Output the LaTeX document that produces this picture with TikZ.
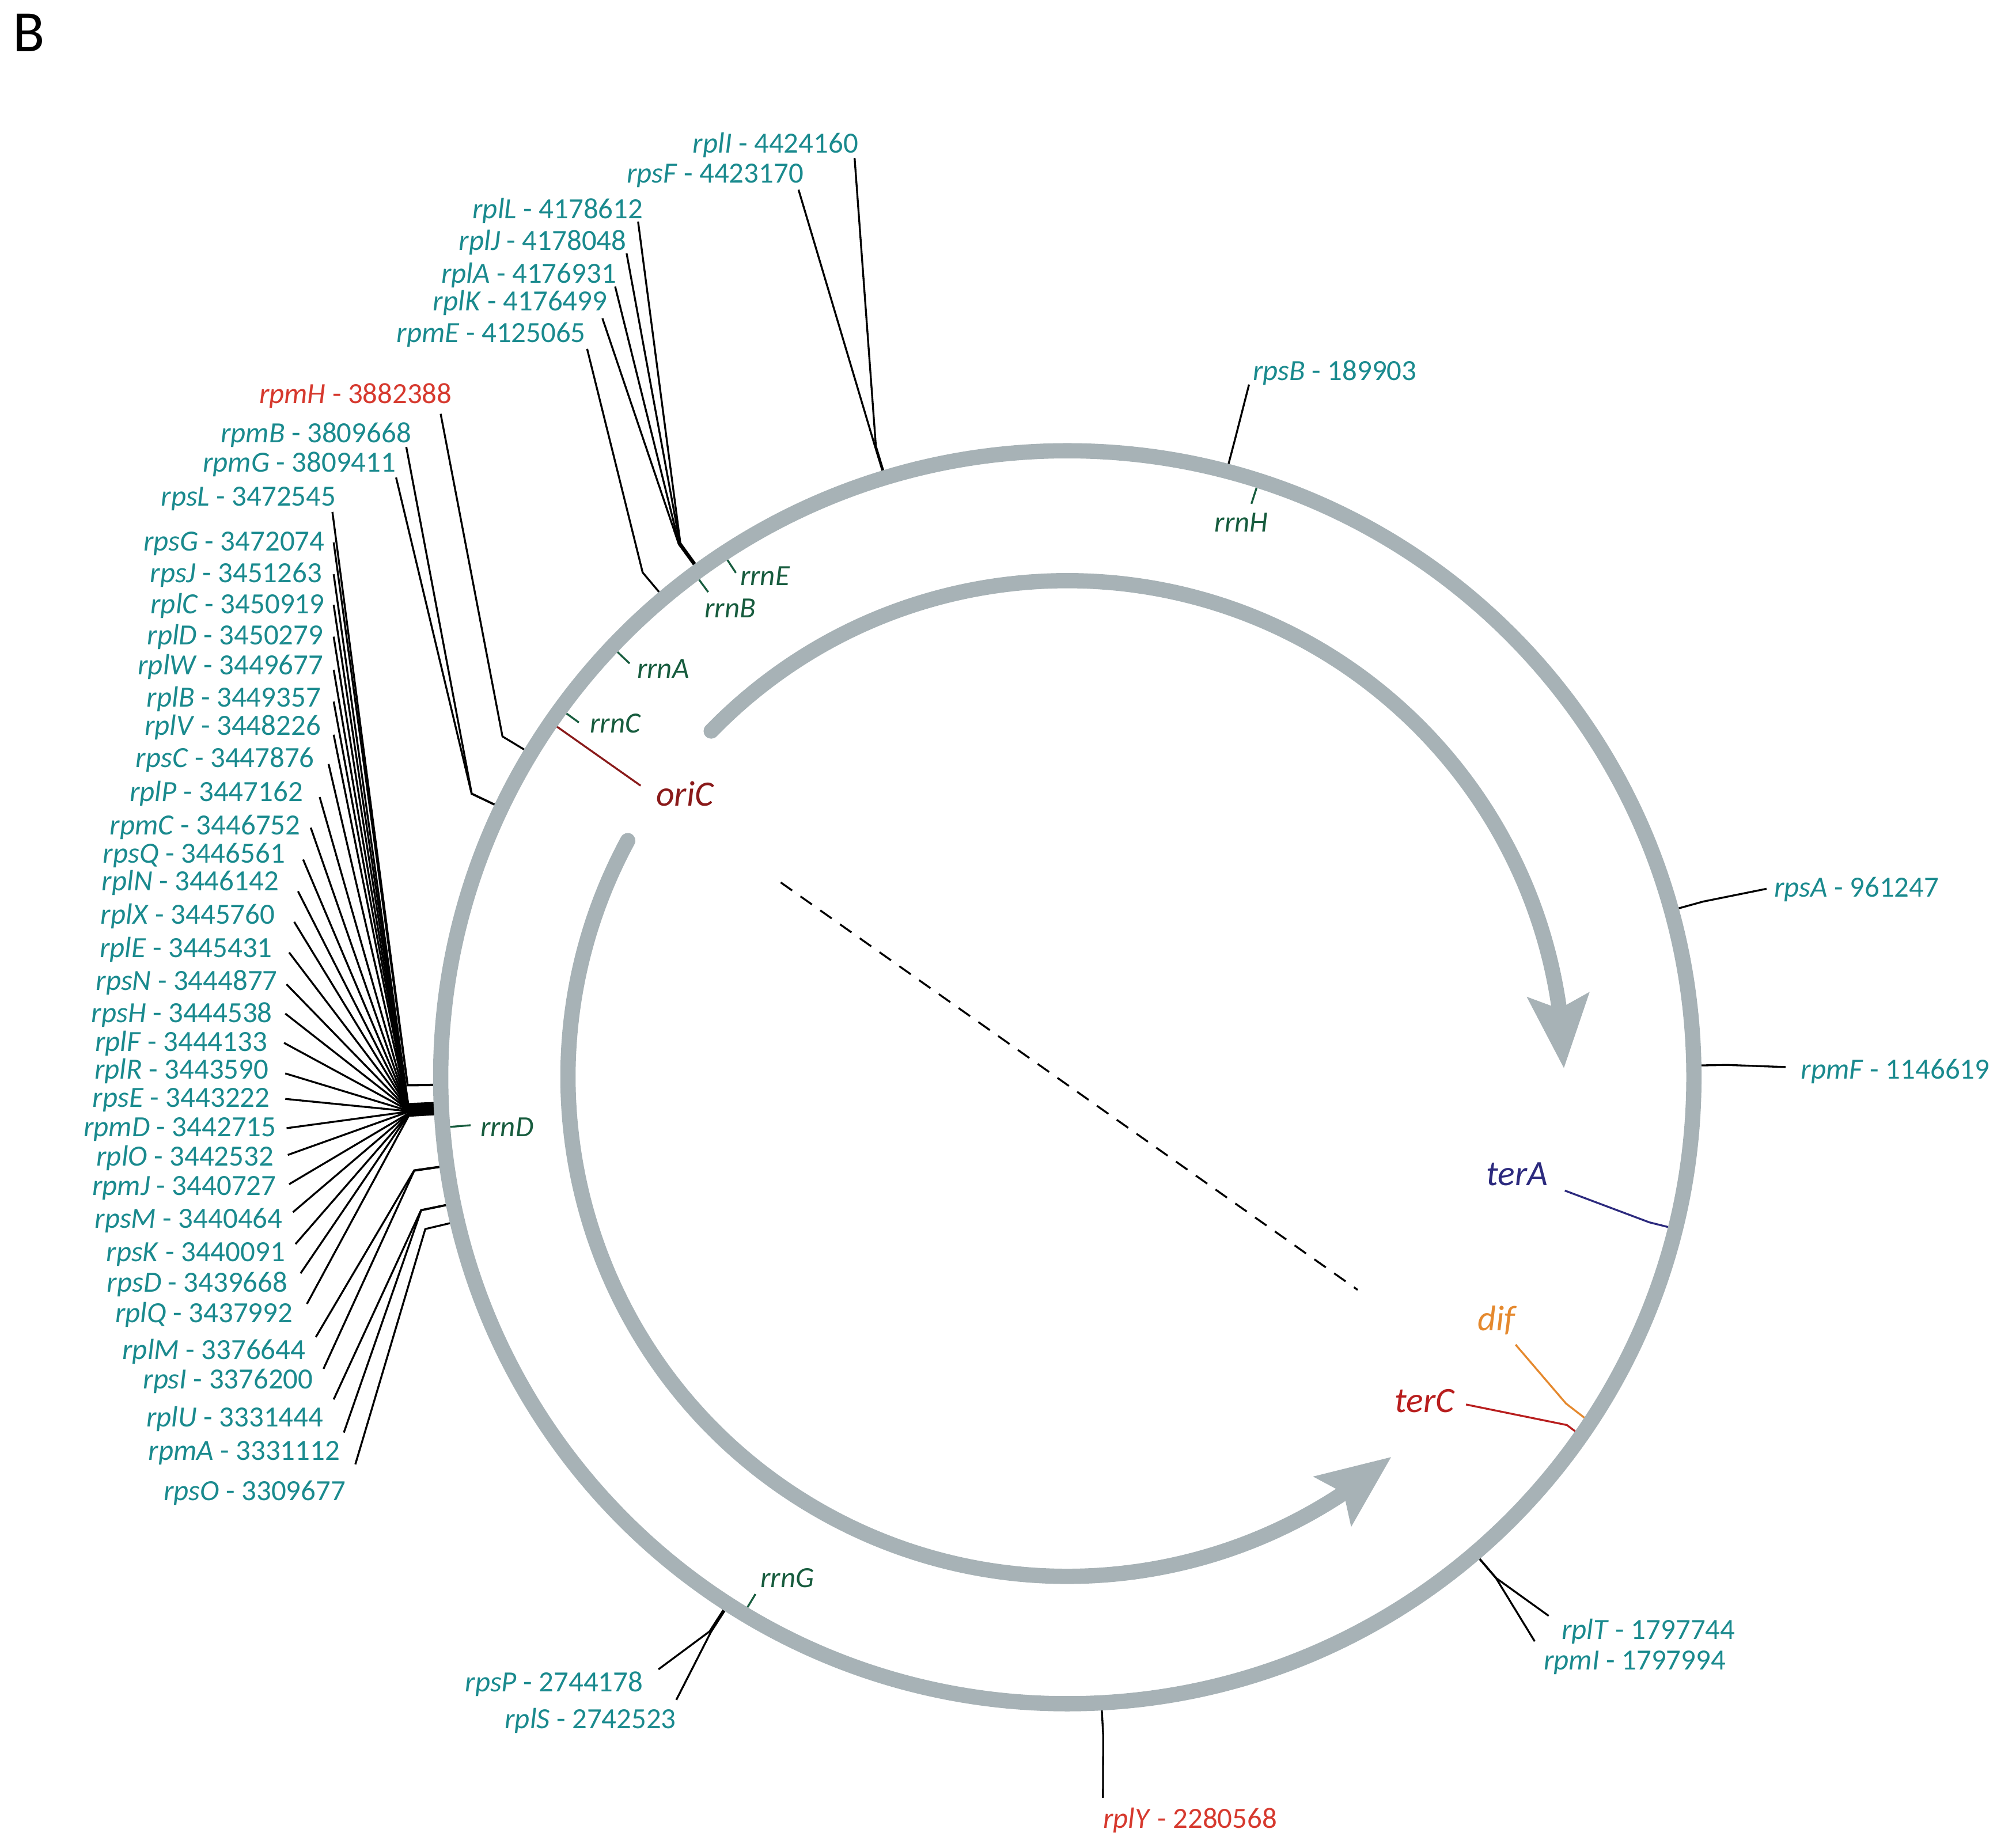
\documentclass[tikz,border=0pt]{standalone}
\usepackage{fontspec}
\setmainfont{Carlito}
\usetikzlibrary{calc,arrows.meta,bending}
\definecolor{labteal}{HTML}{1A8A8E}
\definecolor{rrngreen}{HTML}{175C3E}
\definecolor{labred}{HTML}{D6392E}
\definecolor{oricol}{HTML}{8A1A1A}
\definecolor{teracol}{HTML}{2C2A7E}
\definecolor{difcol}{HTML}{E5892E}
\definecolor{tercol}{HTML}{B81E1E}
\definecolor{ringgrey}{HTML}{A7B2B6}
\tikzset{
  lab/.style={font=\fontsize{23}{27}\selectfont, text=labteal, inner sep=0pt, text height=15pt, text depth=0pt},
  leader/.style={line width=1.5pt, draw=black},
  rrnlab/.style={font=\fontsize{23}{27}\selectfont\itshape, text=rrngreen, inner sep=0pt, text height=15pt, text depth=0pt},
  rrntick/.style={line width=1.5pt, draw=rrngreen},
  bigl/.style={font=\fontsize{28}{32}\selectfont\itshape, inner sep=0pt, text height=18pt, text depth=0pt},
  ringline/.style={line width=12pt, draw=ringgrey},
  bigarrow/.style={ringline, line cap=round, -{Stealth[length=57pt,width=47pt,inset=10pt]}},
}
% id, gene, number, anchor, position, angle (deg clockwise from top), start shift, extra style
\newcommand\gene[8]{%
  \node[lab,#8,anchor=#4] (#1) at #5 {\textit{#2} - #3};
  \coordinate (#1-e) at ($(C)+({#6-90}:518)$);
  \coordinate (#1-c) at ($(C)+({#6-90}:495)$);
  \draw[leader] ([shift={#7}]#1.#4) -- (#1-e) -- (#1-c);
}
% rrn operon: name, angle, label position (west), inner radius
\newcommand\rrnop[4]{%
  \node[rrnlab, anchor=west] (#1) at #3 {#1};
  \coordinate (#1-o) at ($(C)+({#2-90}:489)$);
  \coordinate (#1-i) at ($(C)+({#2-90}:#4)$);
  \draw[rrntick] (#1-o) -- (#1-i);
}
\begin{document}
\begin{tikzpicture}[x=1pt,y=-1pt]
\useasboundingbox (0,0) rectangle (1568,1451);
\coordinate (C) at (838,846);

\node[font=\fontsize{46}{46}\selectfont, inner sep=0pt, anchor=base west] (B) at (10,40.4) {B};

% top labels
\gene{rplI}{rplI}{4424160}{east}{(674,112.5)}{343.131}{(-3,11.5)}{}
\gene{rpsF}{rpsF}{4423170}{east}{(631,136)}{343.054}{(-4,13)}{}
\gene{rplL}{rplL}{4178612}{east}{(505,164)}{324.087}{(-4,10)}{}
\gene{rplJ}{rplJ}{4178048}{east}{(492,189)}{324.043}{(0,10)}{}
\gene{rplA}{rplA}{4176931}{east}{(484,215)}{323.956}{(-1,10)}{}
\gene{rplK}{rplK}{4176499}{east}{(477,236.5)}{323.923}{(-4,13.5)}{}
\gene{rpmE}{rpmE}{4125065}{east}{(460,261.5)}{319.934}{(1,12.5)}{}
\gene{rpmH}{rpmH}{3882388}{east}{(355,309.5)}{301.112}{(-9,15.5)}{text=labred}
\gene{rpmB}{rpmB}{3809668}{east}{(323,340)}{295.472}{(-4,11)}{}
\gene{rpmG}{rpmG}{3809411}{east}{(311,363)}{295.452}{(0,12)}{}
\gene{rpsL}{rpsL}{3472545}{east}{(264,390)}{269.325}{(-3,12)}{}

% left labels
\gene{rpsG}{rpsG}{3472074}{east}{(255,425)}{269.289}{(7,1)}{}
\gene{rpsJ}{rpsJ}{3451263}{east}{(253,450)}{267.675}{(9,1)}{}
\gene{rplC}{rplC}{3450919}{east}{(255,474.5)}{267.648}{(7,0.5)}{}
\gene{rplD}{rplD}{3450279}{east}{(254,499)}{267.598}{(8,1)}{}
\gene{rplW}{rplW}{3449677}{east}{(254,522.5)}{267.552}{(8,3.5)}{}
\gene{rplB}{rplB}{3449357}{east}{(252,547.5)}{267.527}{(10,3.5)}{}
\gene{rplV}{rplV}{3448226}{east}{(252,570)}{267.439}{(10,7)}{}
\gene{rpsC}{rpsC}{3447876}{east}{(247,595)}{267.412}{(11,5)}{}
\gene{rplP}{rplP}{3447162}{east}{(238,622)}{267.357}{(13,4)}{}
\gene{rpmC}{rpmC}{3446752}{east}{(236,648)}{267.325}{(8,2)}{}
\gene{rpsQ}{rpsQ}{3446561}{east}{(224,670)}{267.310}{(14,5)}{}
\gene{rplN}{rplN}{3446142}{east}{(219,692)}{267.278}{(15,8)}{}
\gene{rplX}{rplX}{3445760}{east}{(216,718)}{267.248}{(15,6)}{}
\gene{rplE}{rplE}{3445431}{east}{(214,744.5)}{267.223}{(13,3.5)}{}
\gene{rpsN}{rpsN}{3444877}{east}{(218,770)}{267.180}{(7,3)}{}
\gene{rpsH}{rpsH}{3444538}{east}{(214,795.5)}{267.153}{(10,0.5)}{}
\gene{rplF}{rplF}{3444133}{east}{(210,818)}{267.122}{(13,1)}{}
\gene{rplR}{rplR}{3443590}{east}{(211,840)}{267.080}{(13,3)}{}
\gene{rpsE}{rpsE}{3443222}{east}{(212,862)}{267.051}{(12,1)}{}
\gene{rpmD}{rpmD}{3442715}{east}{(217,885)}{267.012}{(8,1)}{}
\gene{rplO}{rplO}{3442532}{east}{(215,908)}{266.998}{(11,-1)}{}
\gene{rpmJ}{rpmJ}{3440727}{east}{(217,931)}{266.858}{(10,-1)}{}
\gene{rpsM}{rpsM}{3440464}{east}{(222,957)}{266.837}{(8,-5)}{}
\gene{rpsK}{rpsK}{3440091}{east}{(224,983)}{266.808}{(8,-6)}{}
\gene{rpsD}{rpsD}{3439668}{east}{(226,1007)}{266.776}{(10,-7)}{}
\gene{rplQ}{rplQ}{3437992}{east}{(230,1031)}{266.646}{(11,-7)}{}
\gene{rplM}{rplM}{3376644}{east}{(240,1060)}{261.888}{(8,-10)}{}
\gene{rpsI}{rpsI}{3376200}{east}{(246,1083)}{261.853}{(8,-8)}{}
\gene{rplU}{rplU}{3331444}{east}{(254,1113)}{258.382}{(8,-14)}{}
\gene{rpmA}{rpmA}{3331112}{east}{(267,1139)}{258.356}{(3,-14)}{}
\gene{rpsO}{rpsO}{3309677}{east}{(271.5,1171)}{256.694}{(7.5,-21)}{}

% right and bottom labels
\gene{rpsB}{rpsB}{189903}{west}{(983.7,291)}{14.729}{(-3,11)}{}
\gene{rpsA}{rpsA}{961247}{west}{(1393,697)}{74.552}{(-6,1)}{}
\gene{rpmF}{rpmF}{1146619}{west}{(1414,840)}{88.930}{(-12,-2)}{}
\gene{rplT}{rplT}{1797744}{west}{(1226,1280)}{139.430}{(-10,-11)}{}
\gene{rpmI}{rpmI}{1797994}{west}{(1212,1304)}{139.449}{(-7,-15)}{}
\gene{rplY}{rplY}{2280568}{west}{(866,1428)}{176.877}{(0,-16)}{text=labred}
\gene{rpsP}{rpsP}{2744178}{east}{(505,1321)}{212.836}{(12,-10)}{}
\gene{rplS}{rplS}{2742523}{east}{(531,1350)}{212.708}{(0,-15)}{}

% rrn operons
\rrnop{rrnH}{17.8}{(953.5,410)}{473}
\rrnop{rrnE}{326.7}{(581,452)}{474}
\rrnop{rrnB}{323.5}{(553,477.5)}{474}
\rrnop{rrnA}{313.4}{(500,525)}{473}
\rrnop{rrnC}{306.0}{(463,568)}{474}
\rrnop{rrnD}{265.4}{(377,885)}{470}
\rrnop{rrnG}{211.1}{(597,1239)}{474}

% oriC, terA, dif, terC
\node[bigl, text=oricol, anchor=west] (oriC) at (515,624) {oriC};
\coordinate (ori-c) at ($(C)+({304.5-90}:490)$);
\draw[line width=1.5pt, oricol] (ori-c) -- ([shift={(-12,-7)}]oriC.west);

\node[bigl, text=teracol, anchor=west] (terA) at (1167,922) {terA};
\coordinate (terA-c) at ($(C)+({104.0-90}:490)$);
\coordinate (terA-e) at ($(C)+({104.0-90}:471)$);
\draw[line width=1.5pt, teracol] ([shift={(13,13)}]terA.east) -- (terA-e) -- (terA-c);

\node[bigl, text=difcol, anchor=east] (dif) at (1190,1036) {dif};
\coordinate (dif-c) at ($(C)+({123.4-90}:490)$);
\coordinate (dif-e) at ($(C)+({123.2-90}:468)$);
\draw[line width=1.5pt, difcol] ([shift={(0,20)}]dif.east) -- (dif-e) -- (dif-c);

\node[bigl, text=tercol, anchor=west] (terC) at (1095,1100) {terC};
\coordinate (terC-c) at ($(C)+({124.9-90}:490)$);
\coordinate (terC-e) at ($(C)+({124.85-90}:478)$);
\draw[line width=1.5pt, tercol] ([shift={(9,3)}]terC.east) -- (terC-e) -- (terC-c);

% chromosome ring
\draw[ringline] (C) circle[radius=492];

% replication arrows
\draw[bigarrow] ($(C)+(224.2:390)$) arc[start angle=224.2, end angle=359, radius=390];
\draw[bigarrow] ($(C)+(208.3:392)$) arc[start angle=208.3, end angle=49.5, radius=392];

% dashed axis
\coordinate (d1) at (613,693);
\coordinate (d2) at (1066,1013);
\draw[line width=1.5pt, dash pattern=on 11pt off 8pt] (d1) -- (d2);
\end{tikzpicture}
\end{document}
